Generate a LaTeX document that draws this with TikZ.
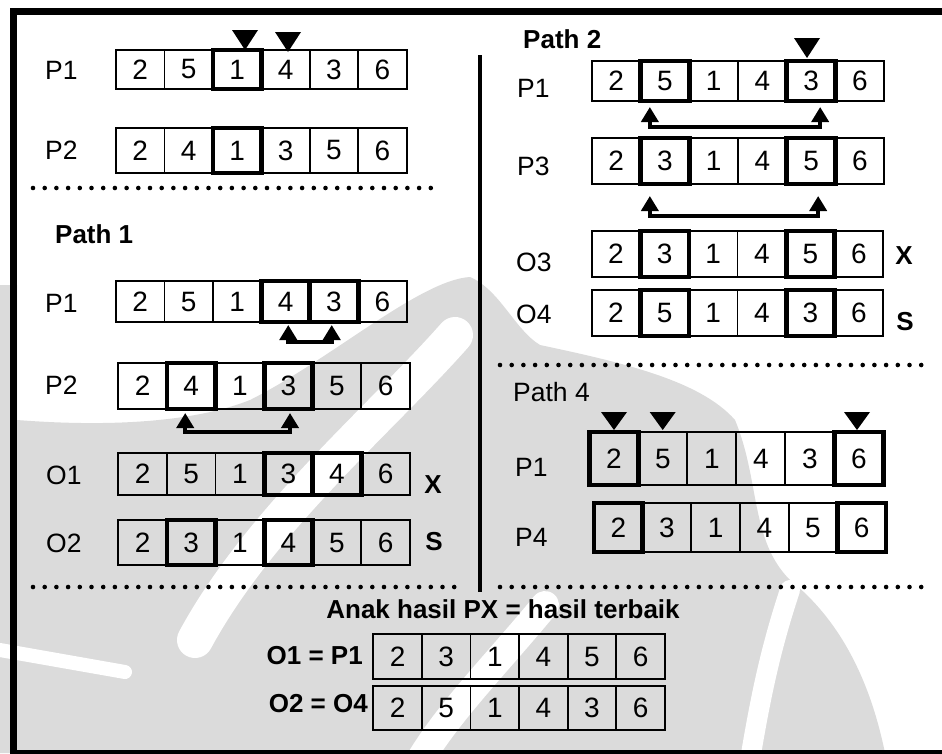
\documentclass[tikz,border=0pt]{standalone}
\usepackage{fontspec}
\setmainfont{Liberation Sans}
\usetikzlibrary{arrows.meta}

\definecolor{wmgray}{gray}{0.86}

\tikzset{
  cell/.style={draw=black, line width=1.8pt, inner sep=0pt, outer sep=0pt,
    anchor=north west, font=\fontsize{28}{30}\selectfont},
  thickcell/.style={draw=black, line width=4.8pt},
  lbl/.style={anchor=west, inner sep=0pt, font=\fontsize{26.5}{30}\selectfont},
  head/.style={anchor=west, inner sep=0pt, font=\bfseries\fontsize{26}{30}\selectfont},
  verdict/.style={inner sep=0pt, font=\bfseries\fontsize{26}{28}\selectfont},
  swapline/.style={line width=4.4pt,
    {Triangle[width=17pt,length=15pt]}-{Triangle[width=17pt,length=15pt]}},
  dots/.style={line width=4.6pt, line cap=round, dash pattern=on 0pt off 11.7pt},
  frameline/.style={line width=7pt},
  wmstripe/.style={draw=white, line cap=round},
}

% one row of six gene cells: name, left x, top y, bottom y, cell width, values
\newcommand\cellrow[6]{%
  \foreach \val [count=\k] in {#6}{%
    \node[cell, minimum width=#5pt, minimum height={(#4-#3)*1pt}]
      (#1-\k) at ({#2+(\k-1)*#5},#3) {\val};
  }%
}
% heavy outline around the selected cells of a row
\newcommand\hl[2]{%
  \foreach \k in {#2}{\draw[thickcell] (#1-\k.north west) rectangle (#1-\k.south east);}%
}
% downward pointer above a cut position: apex x, top y, apex y
\newcommand\pointer[3]{\fill (#1-13,#2) -- (#1+13,#2) -- (#1,#3) -- cycle;}

\begin{document}
\begin{tikzpicture}[x=1pt,y=-1pt]
\useasboundingbox (0,0) rectangle (942,753);
\fill[white] (0,0) rectangle (942,753);

% faint background emblem
\fill[wmgray] (0,285) -- (17,285) -- (17,420)
  .. controls (120,428) and (200,420) .. (250,400)
  .. controls (330,360) and (420,280) .. (470,277)
  .. controls (500,290) and (515,330) .. (540,345)
  .. controls (620,362) and (700,380) .. (735,420)
  .. controls (760,480) and (750,540) .. (790,580)
  .. controls (840,620) and (870,680) .. (885,753)
  -- (0,753) -- cycle;
\draw[wmstripe, line width=36pt] (455,335) .. controls (380,420) and (260,520) .. (195,640);
\draw[wmstripe, line width=14pt] (0,650) -- (125,672);
\draw[wmstripe, line width=28pt] (545,605) .. controls (500,660) and (450,710) .. (420,760);
\draw[wmstripe, line width=20pt] (790,590) .. controls (770,650) and (760,700) .. (750,760);

% outer frame (open on the right)
\draw[frameline] (942,11) -- (13.5,11) -- (13.5,753);
\draw[line width=6pt] (10,752.5) -- (942,752.5);

% separators
\draw[line width=3.5pt] (480,55) -- (480,592);
\draw[dots] (33,188) -- (433,188);
\draw[dots] (500,365) -- (927,365);
\draw[dots] (33,587) -- (457,587);
\draw[dots] (500,587) -- (927,587);

% ---------- parents ----------
\node[lbl] (lta) at (45,70) {P1};
\node[lbl] (ltb) at (45,150) {P2};
\cellrow{ta}{116}{50}{89}{48.45}{2,5,1,4,3,6}
\cellrow{tb}{116}{128}{173}{48.45}{2,4,1,3,5,6}
\hl{ta}{3}
\hl{tb}{3}
\pointer{245}{30}{50}
\pointer{288}{32}{52}

% ---------- Path 1 ----------
\node[head] (path1) at (55,234) {Path 1};
\node[lbl] (lpa) at (45,303) {P1};
\node[lbl] (lqa) at (45,385) {P2};
\node[lbl] (loa) at (46,475) {O1};
\node[lbl] (lob) at (46,543) {O2};
\cellrow{pa}{116}{281}{322}{48.45}{2,5,1,4,3,6}
\cellrow{qa}{118.3}{363}{409}{48.6}{2,4,1,3,5,6}
\cellrow{oa}{118.3}{453}{495}{48.6}{2,5,1,3,4,6}
\cellrow{ob}{118.3}{520}{565}{48.6}{2,3,1,4,5,6}
\hl{pa}{4,5}
\hl{qa}{2,4}
\hl{oa}{4,5}
\hl{ob}{2,4}
\draw[swapline] ([xshift=2.7pt,yshift=-3pt]pa-4.south) -- ++(0,17)
  -| ([xshift=-2.3pt,yshift=-3pt]pa-5.south);
\draw[swapline] ([xshift=-6pt,yshift=-4pt]qa-2.south) -- ++(0,19)
  -| ([xshift=1.6pt,yshift=-4pt]qa-4.south);
\node[verdict] (xa) at (433,485) {X};
\node[verdict] (sa) at (434,542) {S};

% ---------- Path 2 ----------
\node[head] (path2) at (523,39) {Path 2};
\node[lbl] (lpb) at (517,88) {P1};
\node[lbl] (lqb) at (517,166) {P3};
\node[lbl] (loc) at (516,262) {O3};
\node[lbl] (lod) at (516,314) {O4};
\cellrow{pb}{591.7}{61}{101}{48.77}{2,5,1,4,3,6}
\cellrow{qb}{591.7}{138}{184}{48.77}{2,3,1,4,5,6}
\cellrow{oc}{591.7}{231}{277}{48.6}{2,3,1,4,5,6}
\cellrow{od}{591.7}{290}{336}{48.6}{2,5,1,4,3,6}
\hl{pb}{2,5}
\hl{qb}{2,5}
\hl{oc}{2,5}
\hl{od}{2,5}
\pointer{807}{38}{58}
\draw[swapline] ([xshift=-15pt,yshift=-6pt]pb-2.south) -- ++(0,20)
  -| ([xshift=9pt,yshift=-6pt]pb-5.south);
\draw[swapline] ([xshift=-15pt,yshift=-12pt]qb-2.south) -- ++(0,20)
  -| ([xshift=7pt,yshift=-12pt]qb-5.south);
\node[verdict] (xb) at (904,256) {X};
\node[verdict] (sb) at (905,322) {S};

% ---------- Path 4 ----------
\node[lbl] (path4) at (513,392) {Path 4};
\node[lbl] (lpc) at (515,467) {P1};
\node[lbl] (lqc) at (515,537) {P4};
\cellrow{pc}{589.3}{432}{485}{49}{2,5,1,4,3,6}
\cellrow{qc}{594}{503}{552}{48.67}{2,3,1,4,5,6}
\hl{pc}{1,6}
\hl{qc}{1,6}
\pointer{614}{412}{430}
\pointer{662.7}{412}{430}
\pointer{857}{412}{430}

% ---------- result ----------
\node[head, anchor=center] (title) at (503,609) {Anak hasil PX = hasil terbaik};
\node[head, anchor=east] (lra) at (363,656) {O1 = P1};
\node[head, anchor=east] (lrb) at (368,704) {O2 = O4};
\cellrow{ra}{373.3}{634}{679}{48.6}{2,3,1,4,5,6}
\cellrow{rb}{373.3}{686}{730}{48.6}{2,5,1,4,3,6}
\end{tikzpicture}
\end{document}
